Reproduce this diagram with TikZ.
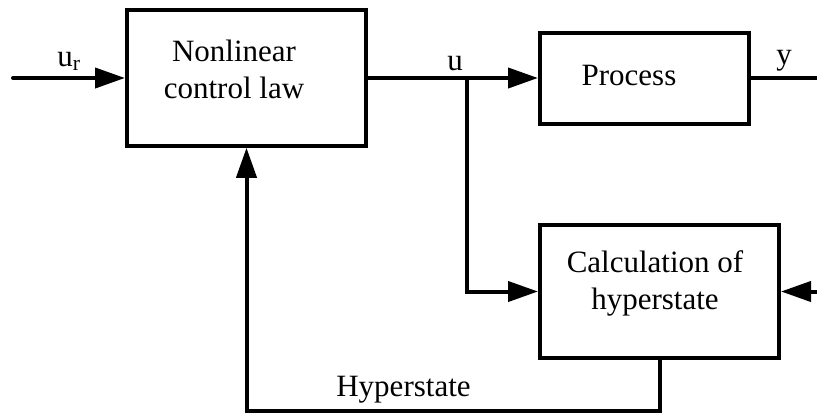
\documentclass[tikz,border=0pt]{standalone}
\usepackage{fontspec}
\setmainfont{Liberation Serif}
\usetikzlibrary{arrows.meta}

\tikzset{
  blockbox/.style={draw, line width=4pt, rectangle, inner sep=0pt},
  txt/.style={font=\fontsize{31}{37}\selectfont, inner sep=0pt, align=center},
  flow/.style={line width=4pt},
  arrowed/.style={flow, -{Triangle[length=30pt,width=20pt]}},
}

\begin{document}
\begin{tikzpicture}[x=1pt, y=-1pt, line join=miter]
  \useasboundingbox (0,0) rectangle (817,413);

  % blocks
  \node[blockbox, minimum width=239pt, minimum height=135.5pt] (ctrl) at (246.5,78) {};
  \node[blockbox, minimum width=209pt, minimum height=91pt]    (proc) at (644.5,78) {};
  \node[blockbox, minimum width=239pt, minimum height=133pt]   (calc) at (659.5,291.5) {};

  % block texts
  \node[txt] (ctrltxt) at (234,69.5)  {Nonlinear\\control law};
  \node[txt, anchor=base] (proctxt) at (629,85) {Process};
  \node[txt] (calctxt) at (655,283.5) {Calculation of\\hyperstate};

  % free ends of the signal lines
  \coordinate (in)   at (13,78);
  \coordinate (out)  at (817,78);
  \coordinate (ext)  at (817,291.5);
  \coordinate (tap)  at (467,78);
  \coordinate (low)  at (0,411);

  % signals
  \draw[arrowed, line cap=round] (in) -- (ctrl.west);
  \draw[arrowed] (ctrl.east) -- (proc.west);
  \draw[arrowed] (tap) |- (calc.west);
  \draw[flow] (proc.east) -- (out);
  \draw[arrowed] (ext) -- (calc.east);
  \draw[arrowed] (calc.south) |- (ctrl.south |- low) -- (ctrl.south);

  % signal labels
  \node[txt, anchor=base] (lur) at (69,66.7) {u\textsubscript{r}};
  \node[txt, anchor=base] (lu)  at (455,70.5) {u};
  \node[txt, anchor=base] (ly)  at (784,64) {y};
  \node[txt, anchor=base] (lh)  at (403.5,396) {Hyperstate};
\end{tikzpicture}
\end{document}
